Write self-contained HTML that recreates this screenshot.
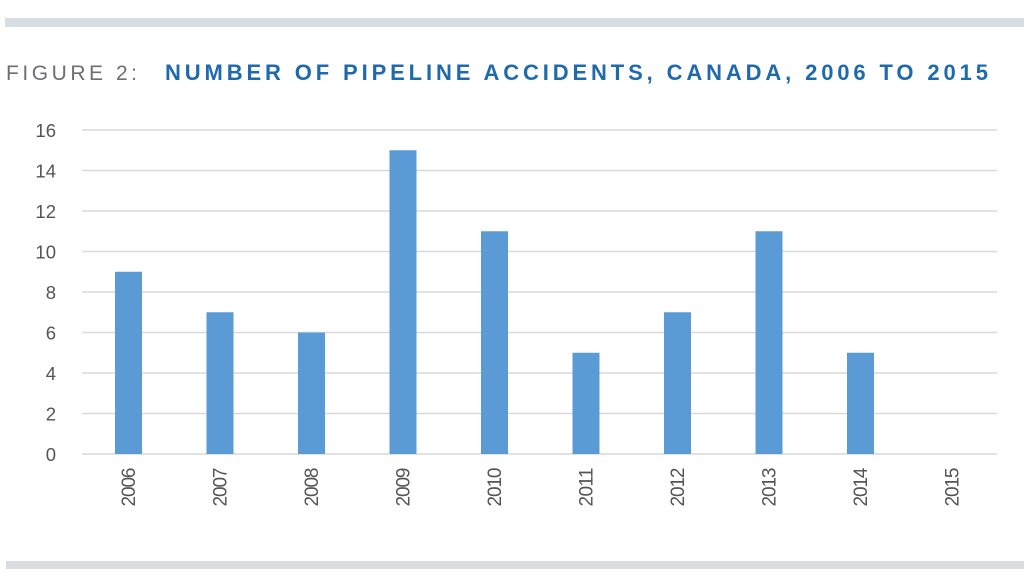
<!DOCTYPE html>
<html><head><style>
body{margin:0;width:1024px;height:576px;background:#fff;overflow:hidden;position:relative;font-family:"Liberation Sans",sans-serif}
.band{position:absolute;left:5px;right:0;background:#d9dce0}
</style></head><body>
<div class="band" style="top:18px;height:9px"></div>
<div class="band" style="top:561px;height:8px;left:6px"></div>
<svg width="1024" height="576" style="position:absolute;left:0;top:0">
<text x="6" y="80" font-size="21" fill="#6d6e71" letter-spacing="3" font-family="Liberation Sans" textLength="134" lengthAdjust="spacing">FIGURE 2:</text>
<text x="165" y="80" font-size="22" font-weight="bold" fill="#1f6aad" font-family="Liberation Sans" textLength="823" lengthAdjust="spacing">NUMBER OF PIPELINE ACCIDENTS, CANADA, 2006 TO 2015</text>
<g stroke="#d9d9d9" stroke-width="1.5">
<line x1="82" x2="997" y1="130" y2="130"/><line x1="82" x2="997" y1="170.5" y2="170.5"/>
<line x1="82" x2="997" y1="211" y2="211"/><line x1="82" x2="997" y1="251.5" y2="251.5"/>
<line x1="82" x2="997" y1="292" y2="292"/><line x1="82" x2="997" y1="332.5" y2="332.5"/>
<line x1="82" x2="997" y1="373" y2="373"/><line x1="82" x2="997" y1="413.5" y2="413.5"/>
<line x1="82" x2="997" y1="454" y2="454"/>
</g>
<g font-size="18.5" fill="#555" text-anchor="end" font-family="Liberation Sans">
<text x="56" y="137">16</text><text x="56" y="177.5">14</text><text x="56" y="218">12</text>
<text x="56" y="258.5">10</text><text x="56" y="299">8</text><text x="56" y="339.5">6</text>
<text x="56" y="380">4</text><text x="56" y="420.5">2</text><text x="56" y="461">0</text>
</g>
<g fill="#5b9bd5">
<rect x="115" y="271.75" width="27" height="182.25"/>
<rect x="206.5" y="312.25" width="27" height="141.75"/>
<rect x="298" y="332.5" width="27" height="121.5"/>
<rect x="389.5" y="150.25" width="27" height="303.75"/>
<rect x="481" y="231.25" width="27" height="222.75"/>
<rect x="572.5" y="352.75" width="27" height="101.25"/>
<rect x="664" y="312.25" width="27" height="141.75"/>
<rect x="755.5" y="231.25" width="27" height="222.75"/>
<rect x="847" y="352.75" width="27" height="101.25"/>
</g>
<g font-size="19" fill="#555" text-anchor="middle" font-family="Liberation Sans Narrow, Liberation Sans">
<text transform="translate(135,487) rotate(-90)" textLength="39">2006</text>
<text transform="translate(226.5,487) rotate(-90)" textLength="39">2007</text>
<text transform="translate(318,487) rotate(-90)" textLength="39">2008</text>
<text transform="translate(409.5,487) rotate(-90)" textLength="39">2009</text>
<text transform="translate(501,487) rotate(-90)" textLength="39">2010</text>
<text transform="translate(592.5,487) rotate(-90)" textLength="39">2011</text>
<text transform="translate(684,487) rotate(-90)" textLength="39">2012</text>
<text transform="translate(775.5,487) rotate(-90)" textLength="39">2013</text>
<text transform="translate(867,487) rotate(-90)" textLength="39">2014</text>
<text transform="translate(958.5,487) rotate(-90)" textLength="39">2015</text>
</g>
</svg>
</body></html>
